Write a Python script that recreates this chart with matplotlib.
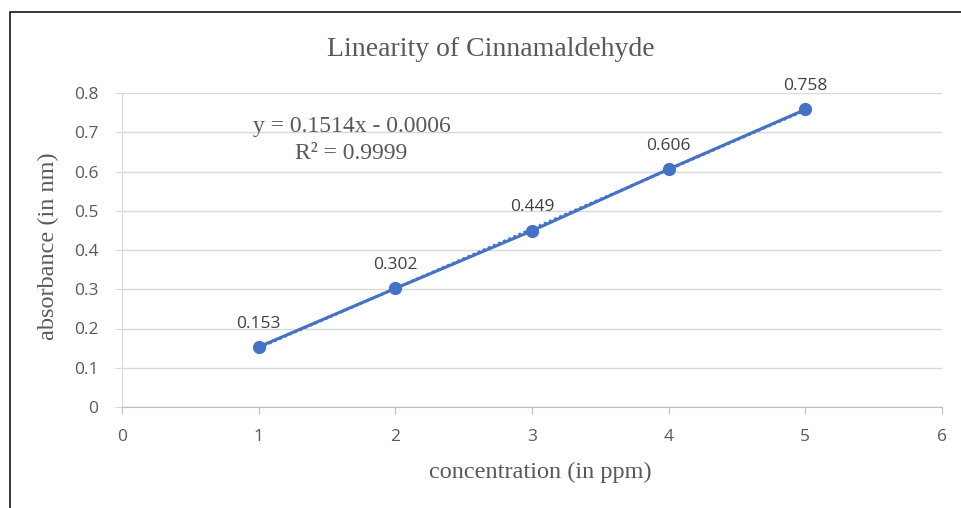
import matplotlib
matplotlib.use("Agg")
import matplotlib.pyplot as plt
from matplotlib.patches import Rectangle

# data
concentration = [1, 2, 3, 4, 5]
absorbance = [0.153, 0.302, 0.449, 0.606, 0.758]
point_labels = ["0.153", "0.302", "0.449", "0.606", "0.758"]
slope = 0.1514
intercept = -0.0006
x_ticks = [0, 1, 2, 3, 4, 5, 6]
y_ticks = [0, 0.1, 0.2, 0.3, 0.4, 0.5, 0.6, 0.7, 0.8]
y_tick_labels = ["0", "0.1", "0.2", "0.3", "0.4", "0.5", "0.6", "0.7", "0.8"]

blue = "#4472C4"
text_gray = "#595959"
tick_gray = "#595959"
serif = "Liberation Serif"
sans = "Open Sans"

fig = plt.figure(figsize=(9.62, 5.08), dpi=100)
ax = fig.add_axes([122/962, 1-407/508, (942-122)/962, (407-93)/508])

# chart border (cropped on right/bottom)
fig.add_artist(Rectangle((10/962, -0.2), 2.0, 0.2 + (508-12)/508,
                         transform=fig.transFigure, fill=False,
                         edgecolor="#262626", linewidth=1.3))

ax.set_xlim(0, 6)
ax.set_ylim(0, 0.8)
ax.yaxis.grid(True, color="#d9d9d9", linewidth=1)
ax.set_axisbelow(True)
for side in ["top", "right"]:
    ax.spines[side].set_visible(False)
ax.spines["left"].set_color("#d9d9d9")
ax.spines["bottom"].set_color("#bfbfbf")

ax.set_xticks(x_ticks)
ax.set_xticklabels([str(t) for t in x_ticks], fontfamily=sans, fontsize=12.5, color=tick_gray)
ax.set_yticks(y_ticks)
ax.set_yticklabels(y_tick_labels, fontfamily=sans, fontsize=12.5, color=tick_gray)
ax.tick_params(axis="x", length=5, color="#bfbfbf", pad=11)
ax.tick_params(axis="y", length=5, color="#d9d9d9", pad=12)

# trendline (dotted), from displayed equation
tx = [concentration[0], concentration[-1]]
ty = [slope * v + intercept for v in tx]
ax.plot(tx, ty, color=blue, linestyle=(0, (1, 1)), linewidth=2)

ax.plot(concentration, absorbance, color=blue, linewidth=2.2,
        marker="o", markersize=8.5, zorder=3)

for xv, yv, lab in zip(concentration, absorbance, point_labels):
    ax.annotate(lab, (xv, yv), xytext=(0, 11), textcoords="offset points",
                ha="center", va="bottom", fontfamily=sans, fontsize=12.5,
                color="#404040")

ax.text(1.68, 0.715, "y = 0.1514x - 0.0006", ha="center", va="center",
        fontfamily=serif, fontsize=17, color=text_gray)
ax.text(1.68, 0.645, "R² = 0.9999", ha="center", va="center",
        fontfamily=serif, fontsize=17, color=text_gray)

fig.text(491/962, 1-49/508, "Linearity of Cinnamaldehyde", ha="center", va="center",
         fontfamily=serif, fontsize=20, color=text_gray)
fig.text(540/962, 1-472/508, "concentration (in ppm)", ha="center", va="center",
         fontfamily=serif, fontsize=17.5, color=text_gray)
fig.text(48/962, 1-246/508, "absorbance (in nm)", ha="center", va="center",
         rotation=90, fontfamily=serif, fontsize=17.5, color=text_gray)

fig.savefig("out.png", dpi=100)
